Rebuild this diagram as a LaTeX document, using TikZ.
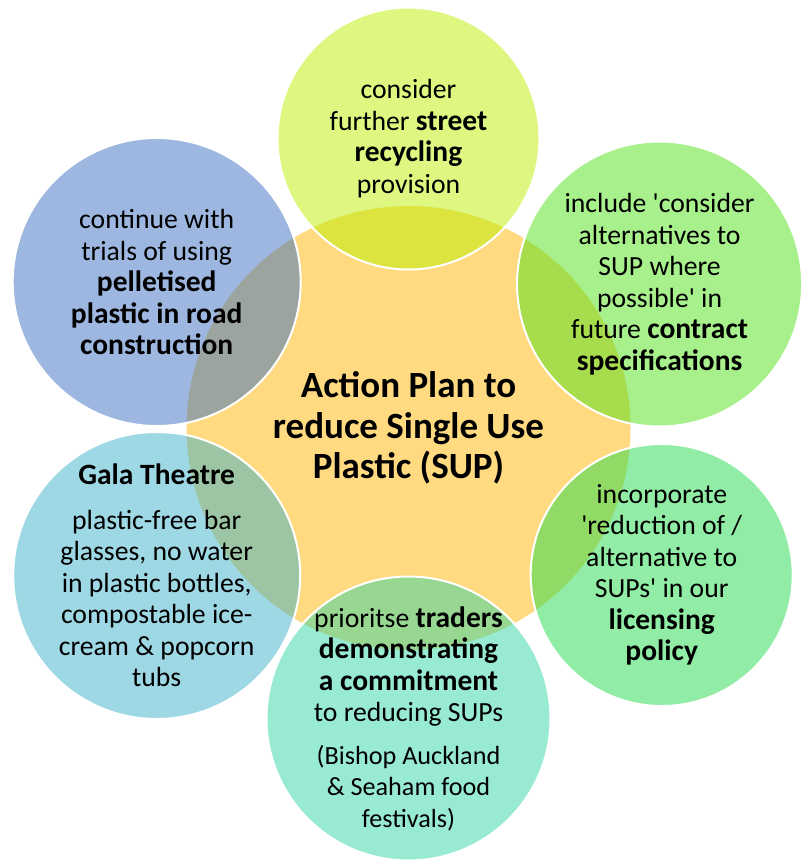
\documentclass[tikz,border=0pt]{standalone}
\usepackage{fontspec}
\setmainfont{Carlito}
\definecolor{hubc}{RGB}{255,218,128}
\definecolor{streetc}{RGB}{187,239,1}
\definecolor{contractc}{RGB}{81,225,25}
\definecolor{licencec}{RGB}{35,219,75}
\definecolor{tradersc}{RGB}{49,213,165}
\definecolor{galac}{RGB}{61,177,201}
\definecolor{pelletc}{RGB}{59,111,193}
\newcommand\asidefont{\fontsize{26.2}{29.7}\selectfont}
\newcommand\key[1]{{\fontsize{29.5}{31.5}\selectfont\bfseries #1}}

\begin{document}
\begin{tikzpicture}[x=1pt,y=-1pt,
  bubble/.style={circle, draw=white, line width=2pt, fill opacity=0.5, inner sep=0pt},
  say/.style={align=center, inner sep=0pt, font=\fontsize{27.7}{31.5}\selectfont}]
\useasboundingbox (0,0) rectangle (801,864);
% hub
\node [circle, fill=hubc, inner sep=0pt, minimum size=444] (hub) at (408.5,428) {};
% bubbles
\node [bubble, fill=streetc, minimum size=262] (street) at (408.5,138.5) {};
\node [bubble, fill=contractc, minimum size=285] (contract) at (659.6,284) {};
\node [bubble, fill=licencec, minimum size=262] (licence) at (661.7,575) {};
\node [bubble, fill=tradersc, minimum size=284] (traders) at (408.5,718.5) {};
\node [bubble, fill=galac, minimum size=287] (gala) at (156.7,575.5) {};
\node [bubble, fill=pelletc, minimum size=288] (pellet) at (156.7,282) {};
% texts
\node [say, font=\fontsize{37}{40.5}\selectfont\bfseries] (hubtext) at (hub) {Action Plan to\\reduce Single Use\\Plastic (SUP)};
\node [say] (streettext) at (street) {consider\\further \key{street}\\\key{recycling}\\provision};
\node [say] (contracttext) at (contract) {include \textquotesingle consider\\alternatives to\\SUP where\\possible\textquotesingle{} in\\future \key{contract}\\\key{specifications}};
\node [say] (licencetext) at (licence) {incorporate\\\textquotesingle reduction of /\\alternative to\\SUPs\textquotesingle{} in our\\\key{licensing}\\\key{policy}};
\node [say] (traderstext) at (traders) {prioritse \key{traders}\\\key{demonstrating}\\\key{a commitment}\\to reducing SUPs\\[11pt]
  {\asidefont (Bishop Auckland}\\{\asidefont \& Seaham food}\\{\asidefont festivals)}};
\node [say] (galatext) at (gala) {\key{Gala Theatre}\\[13pt]plastic-free bar\\glasses, no water\\in plastic bottles,\\compostable ice-\\cream \& popcorn\\tubs};
\node [say] (pellettext) at (pellet) {continue with\\trials of using\\\key{pelletised}\\\key{plastic in road}\\\key{construction}};
\end{tikzpicture}
\end{document}
